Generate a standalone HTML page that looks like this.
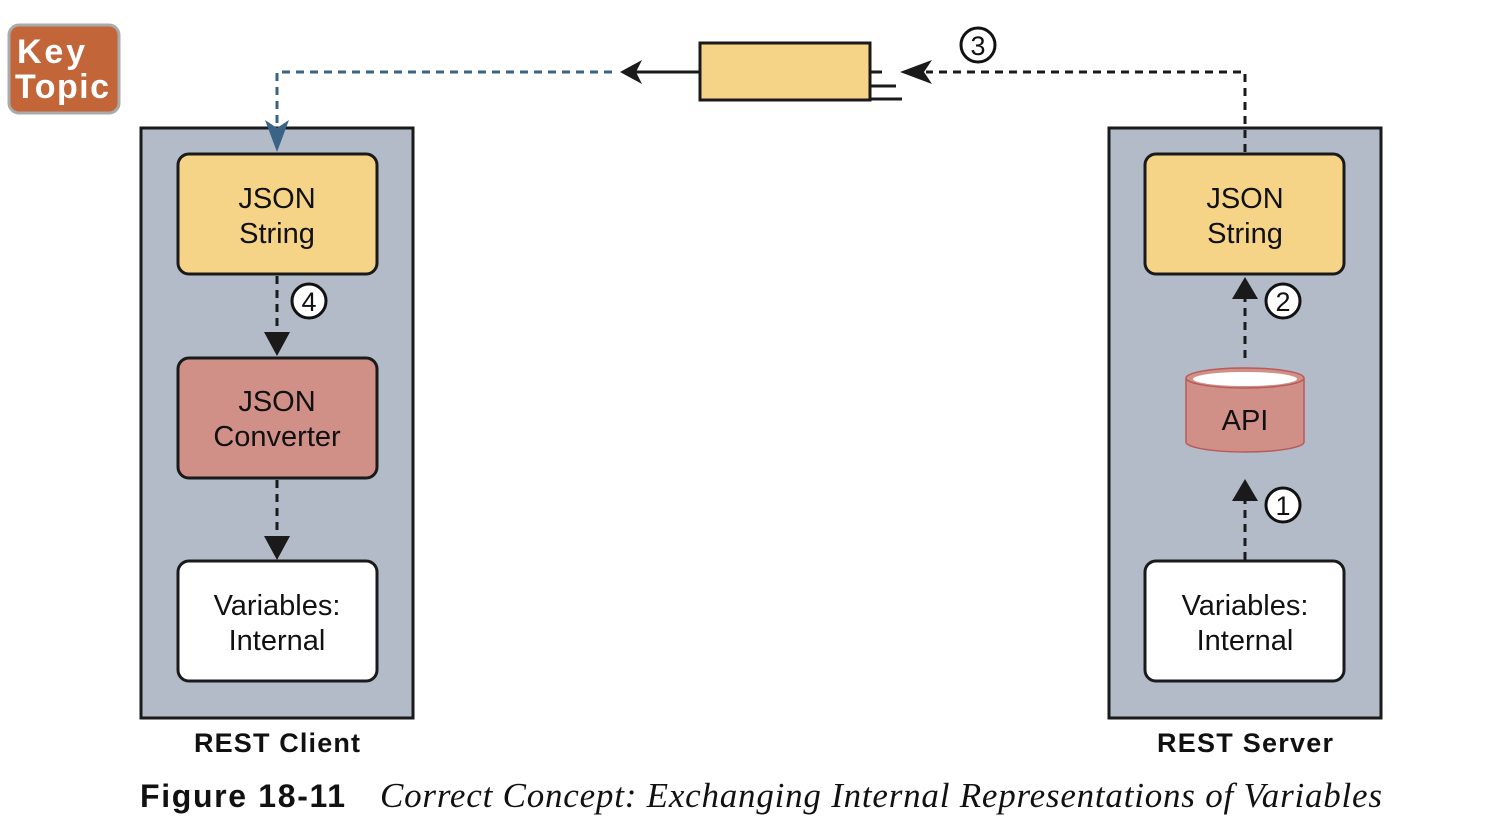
<!DOCTYPE html>
<html><head><meta charset="utf-8"><style>
body{margin:0;background:#fff;}
svg{display:block;}
.t{font-family:"Liberation Sans",sans-serif;font-size:29px;fill:#111;text-anchor:middle;}
.b{font-family:"Liberation Sans",sans-serif;font-size:27px;font-weight:bold;fill:#111;text-anchor:middle;}
.n{font-family:"Liberation Sans",sans-serif;font-size:27px;fill:#111;text-anchor:middle;}
</style></head><body>
<svg width="1504" height="824" viewBox="0 0 1504 824" xmlns="http://www.w3.org/2000/svg">
<rect x="9" y="25" width="110" height="88" rx="10" fill="#c2663a" stroke="#aaa" stroke-width="3"/>
<text x="17" y="63" font-family="Liberation Sans" font-weight="bold" font-size="34" fill="#fff" textLength="68">Key</text>
<text x="15" y="98" font-family="Liberation Sans" font-weight="bold" font-size="34" fill="#fff" textLength="94">Topic</text>

<rect x="141" y="128" width="272" height="590" fill="#b3bbc8" stroke="#1a1a1a" stroke-width="3"/>
<rect x="1109" y="128" width="272" height="590" fill="#b3bbc8" stroke="#1a1a1a" stroke-width="3"/>

<rect x="700" y="43" width="170" height="57" fill="#f5d488" stroke="#1a1a1a" stroke-width="3"/>
<path d="M870 72H882M870 86H896M870 99H902" stroke="#1a1a1a" stroke-width="3"/>
<line x1="700" y1="72" x2="636" y2="72" stroke="#1a1a1a" stroke-width="3"/>
<polygon points="620,72 642,60 636,72 642,84" fill="#1a1a1a"/>
<path d="M612 72H277V128" stroke="#3a6386" stroke-width="3" stroke-dasharray="8,6" fill="none"/>
<polygon points="277,152 265,120 277,128 289,120" fill="#3a6386"/>
<path d="M1245 152V72H926" stroke="#1a1a1a" stroke-width="3" stroke-dasharray="8,6" fill="none"/>
<polygon points="900,72 932,60 924,72 932,84" fill="#1a1a1a"/>
<circle cx="978" cy="45" r="17" fill="#fff" stroke="#111" stroke-width="3"/><text class="n" x="978" y="55">3</text>

<rect x="178" y="154" width="199" height="120" rx="11" fill="#f5d488" stroke="#1a1a1a" stroke-width="3"/>
<text class="t" x="277" y="208">JSON</text><text class="t" x="277" y="243">String</text>
<path d="M277 276V336" stroke="#1a1a1a" stroke-width="3" stroke-dasharray="8,6"/>
<polygon points="277,356 264,332 290,332" fill="#1a1a1a"/>
<circle cx="309" cy="301" r="17" fill="#fff" stroke="#111" stroke-width="3"/><text class="n" x="309" y="311">4</text>
<rect x="178" y="358" width="199" height="120" rx="11" fill="#d09088" stroke="#1a1a1a" stroke-width="3"/>
<text class="t" x="277" y="411">JSON</text><text class="t" x="277" y="446">Converter</text>
<path d="M277 480V540" stroke="#1a1a1a" stroke-width="3" stroke-dasharray="8,6"/>
<polygon points="277,560 264,536 290,536" fill="#1a1a1a"/>
<rect x="178" y="561" width="199" height="120" rx="11" fill="#fff" stroke="#1a1a1a" stroke-width="3"/>
<text class="t" x="277" y="615">Variables:</text><text class="t" x="277" y="650">Internal</text>

<rect x="1145" y="154" width="199" height="120" rx="11" fill="#f5d488" stroke="#1a1a1a" stroke-width="3"/>
<text class="t" x="1245" y="208">JSON</text><text class="t" x="1245" y="243">String</text>
<path d="M1245 358V298" stroke="#1a1a1a" stroke-width="3" stroke-dasharray="8,6"/>
<polygon points="1245,277 1232,299 1258,299" fill="#1a1a1a"/>
<circle cx="1283" cy="301" r="17" fill="#fff" stroke="#111" stroke-width="3"/><text class="n" x="1283" y="311">2</text>
<path d="M1186 378V442A59 10 0 0 0 1304 442V378" fill="#d09088" stroke="#b85a5a" stroke-width="1.5"/>
<ellipse cx="1245" cy="378" rx="59" ry="10" fill="#d09088" stroke="#b85a5a" stroke-width="1.5"/>
<ellipse cx="1245" cy="379" rx="52" ry="7" fill="#fff"/>
<text class="t" x="1245" y="430">API</text>
<path d="M1245 560V500" stroke="#1a1a1a" stroke-width="3" stroke-dasharray="8,6"/>
<polygon points="1245,479 1232,501 1258,501" fill="#1a1a1a"/>
<circle cx="1283" cy="505" r="17" fill="#fff" stroke="#111" stroke-width="3"/><text class="n" x="1283" y="515">1</text>
<rect x="1145" y="561" width="199" height="120" rx="11" fill="#fff" stroke="#1a1a1a" stroke-width="3"/>
<text class="t" x="1245" y="615">Variables:</text><text class="t" x="1245" y="650">Internal</text>

<text class="b" x="277" y="752" textLength="166">REST Client</text>
<text class="b" x="1245" y="752" textLength="176">REST Server</text>
<text x="140" y="807" font-family="Liberation Sans" font-weight="bold" font-size="32" fill="#111" textLength="205">Figure 18-11</text>
<text x="380" y="807" font-family="Liberation Serif" font-style="italic" font-size="35" fill="#111" textLength="1002">Correct Concept: Exchanging Internal Representations of Variables</text>
</svg>
</body></html>
